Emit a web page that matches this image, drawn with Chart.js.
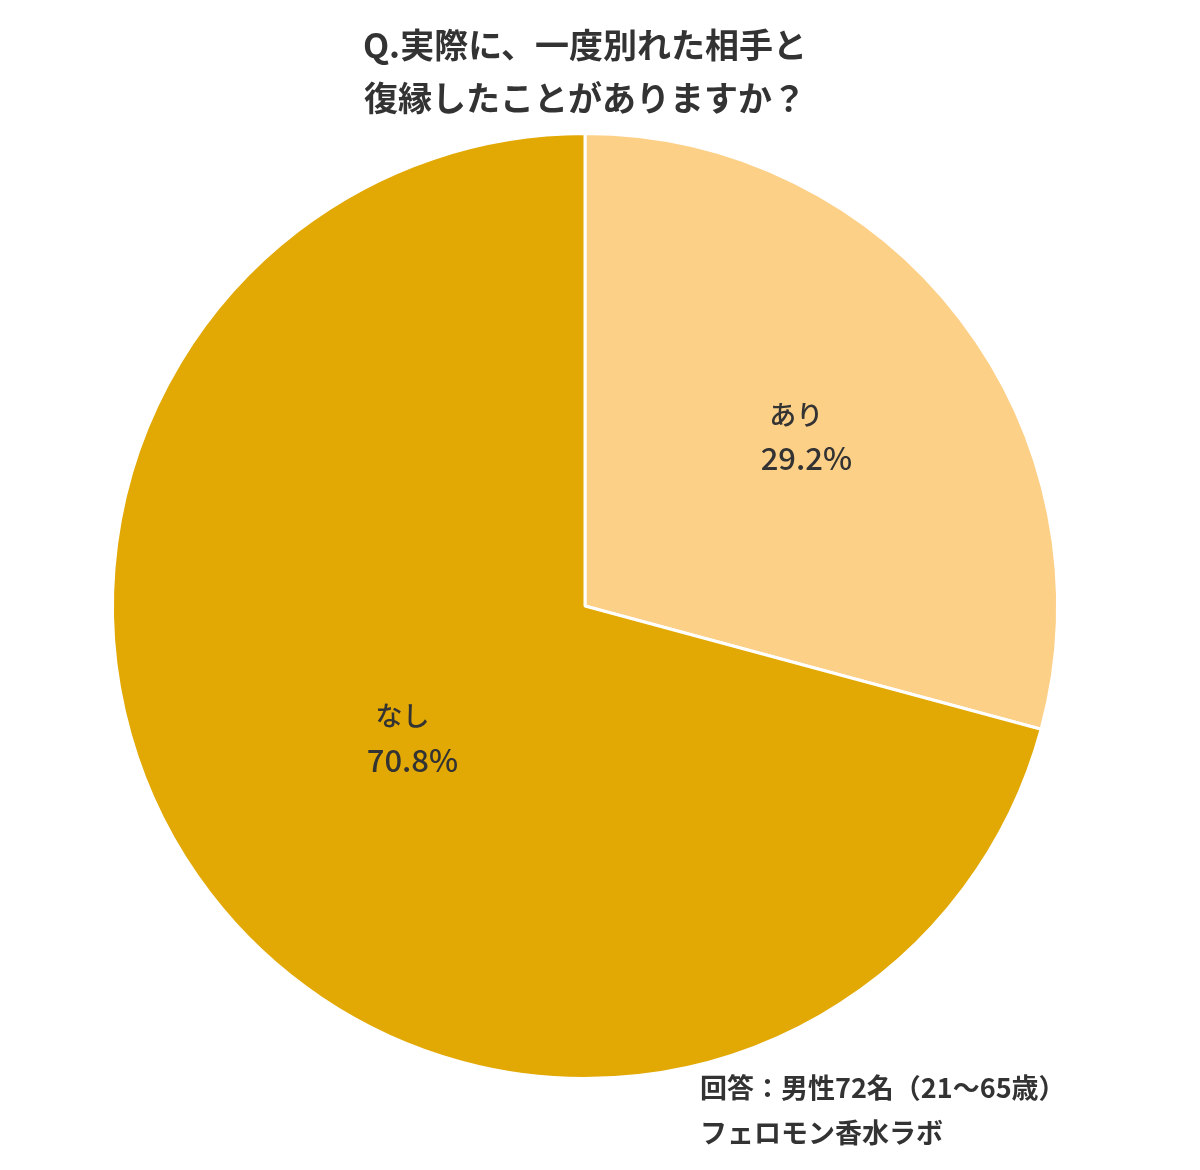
<!DOCTYPE html>
<html>
<head>
<meta charset="utf-8">
<script src="https://cdn.jsdelivr.net/npm/chart.js@4"></script>
<style>
  body { margin: 0; background: #fff; }
  #wrap { width: 1200px; height: 1170px; }
</style>
</head>
<body>
<div id="wrap"><canvas id="chart-ctx"></canvas></div>
<script>
const titleLines = ["Q.実際に、一度別れた相手と", "復縁したことがありますか？"];
const labels = ["あり", "なし"];
const values = [29.2, 70.8];
const colors = ["#FDD088", "#E2A803"];
const footerLines = ["回答：男性72名（21～65歳）", "フェロモン香水ラボ"];
const labelRadius = [0.59, 0.46];

const FONT = "'Noto Sans CJK JP', 'Noto Sans', sans-serif";

const textPlugin = {
    id: "textPlugin",
    afterDraw(chart) {
        const ctx = chart.ctx;
        ctx.save();
        ctx.fillStyle = "#333";
        ctx.textBaseline = "middle";

        // title
        ctx.textAlign = "center";
        ctx.font = "bold 34px " + FONT;
        ctx.fillText(titleLines[0], 585, 45);
        ctx.fillText(titleLines[1], 585, 98);

        // slice labels
        const meta = chart.getDatasetMeta(0);
        meta.data.forEach((arc, i) => {
            const mid = (arc.startAngle + arc.endAngle) / 2;
            const r = arc.outerRadius * labelRadius[i];
            const x = arc.x + Math.cos(mid) * r;
            const y = arc.y + Math.sin(mid) * r;
            ctx.font = "500 27px " + FONT;
            ctx.fillText(labels[i], x - 10, y - 22);
            ctx.font = "500 31px " + FONT;
            ctx.fillText(values[i].toFixed(1) + "%", x, y + 22);
        });

        // footer
        ctx.textAlign = "left";
        ctx.font = "bold 27px " + FONT;
        ctx.fillText(footerLines[0], 700, 1088);
        ctx.fillText(footerLines[1], 700, 1133);
        ctx.restore();
    }
};

new Chart(document.getElementById("chart-ctx"), {
    type: "pie",
    data: {
        labels: labels,
        datasets: [{
            data: values,
            backgroundColor: colors,
            borderColor: "#fff",
            borderWidth: 3,
        }]
    },
    options: {
        responsive: true,
        maintainAspectRatio: false,
        animation: false,
        layout: {
            padding: { top: 132, bottom: 90, left: 111, right: 141 }
        },
        plugins: {
            legend: { display: false },
            tooltip: { enabled: false },
        }
    },
    plugins: [textPlugin]
});
</script>
</body>
</html>
